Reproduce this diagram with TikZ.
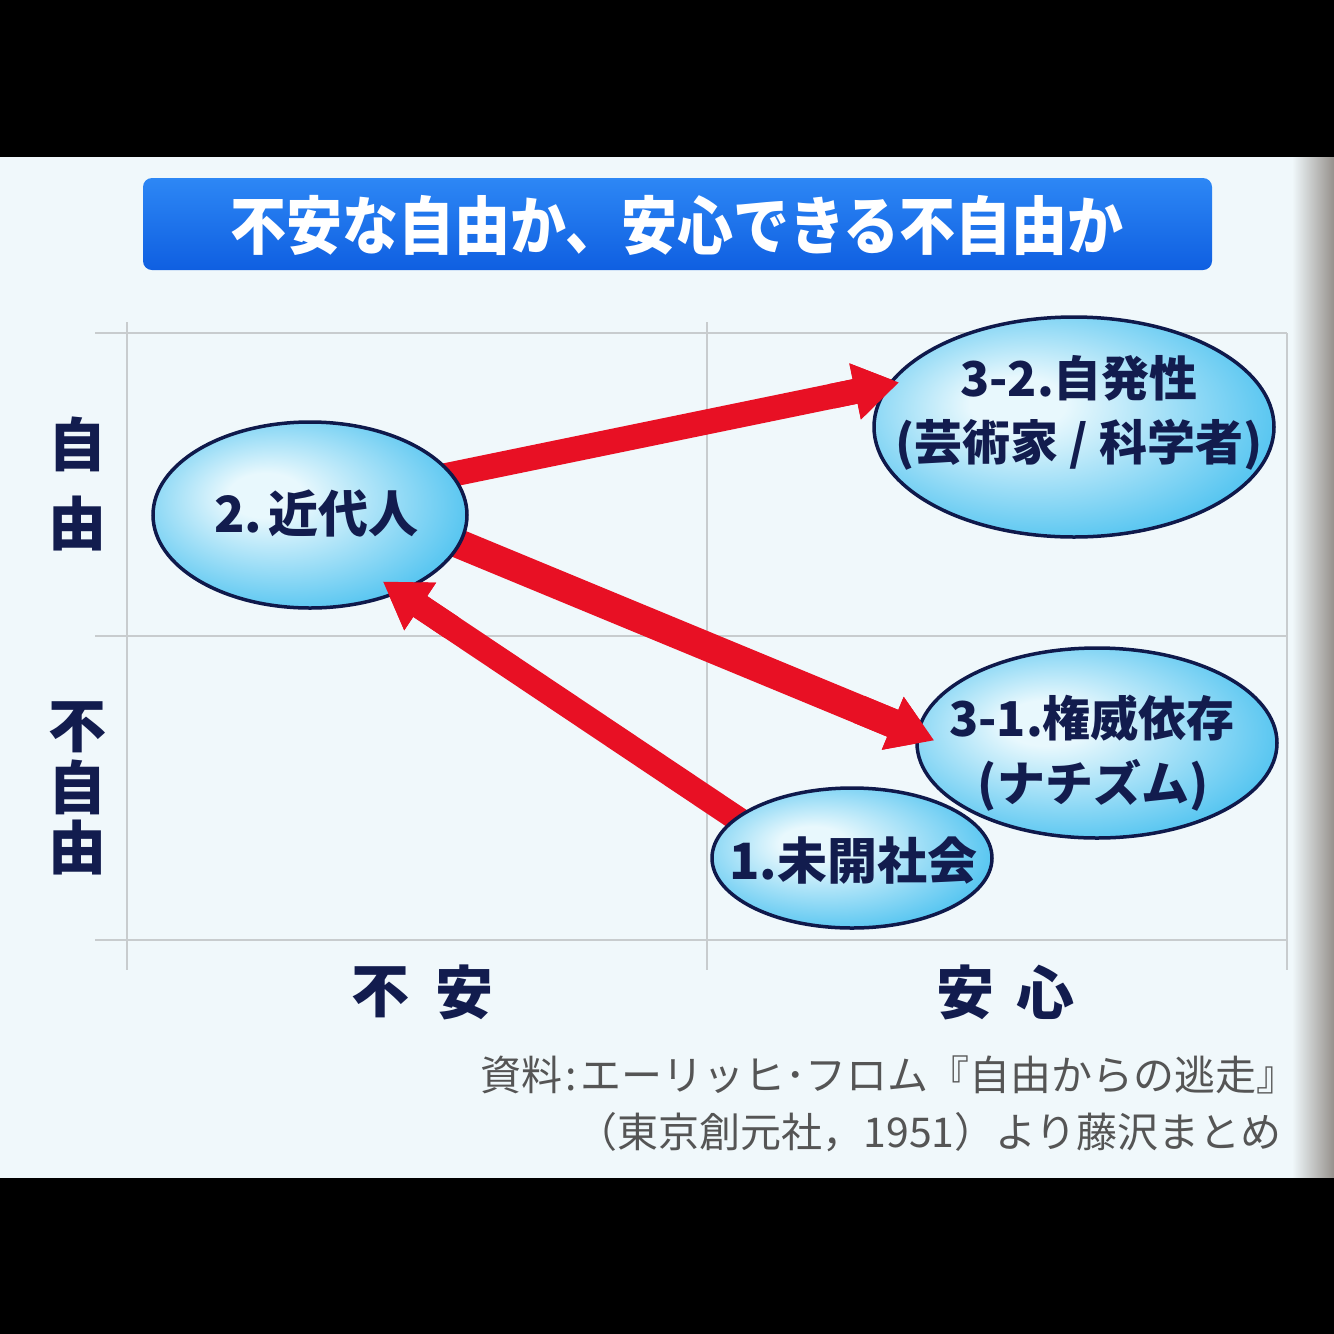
\documentclass[tikz,border=0pt]{standalone}
\usepackage{fontspec}
\newfontfamily\jp{Noto Sans CJK JP}
\usetikzlibrary{shapes.geometric,arrows.meta}
\definecolor{bgc}{RGB}{240,248,251}
\definecolor{gridc}{RGB}{200,204,206}
\definecolor{navy}{RGB}{15,25,75}
\definecolor{txtc}{RGB}{18,28,78}
\definecolor{arrred}{RGB}{232,16,36}
\definecolor{ellin}{RGB}{232,248,253}
\definecolor{ellout}{RGB}{80,195,240}
\definecolor{ttop}{RGB}{45,135,245}
\definecolor{tbot}{RGB}{15,95,225}
\definecolor{capc}{RGB}{85,85,85}
\definecolor{vign}{RGB}{150,145,140}
\pgfdeclareradialshading{ellshade}{\pgfpoint{-8bp}{6bp}}{color(0bp)=(ellin); color(6bp)=(ellin); color(30bp)=(ellout); color(50bp)=(ellout)}
\tikzset{
  ell/.style={ellipse, draw=navy, line width=3.5pt, inner sep=0pt, shading=ellshade},
  gridline/.style={draw=gridc, line width=2.5pt},
  redarrow/.style={draw=arrred, line width=#1, -{Triangle[length=45pt,width=54pt]}},
  lab/.style={inner sep=0pt, text=txtc, font=\jp\bfseries\fontsize{50}{60}\selectfont},
  axlab/.style={inner sep=0pt, text=txtc, font=\jp\bfseries\fontsize{58}{60}\selectfont},
  captext/.style={inner sep=0pt, text=capc, font=\jp\fontsize{41}{48}\selectfont, anchor=east}
}
\begin{document}
\begin{tikzpicture}[x=1pt,y=-1pt]
\useasboundingbox (0,0) rectangle (1334,1334);
% background
\fill[bgc] (0,157) rectangle (1334,1178);
\shade[left color=bgc, right color=vign] (1292,157) rectangle (1334,1178);
\fill[black] (0,0) rectangle (1334,157);
\fill[black] (0,1178) rectangle (1334,1334);
% title
\shade[top color=ttop, bottom color=tbot, rounded corners=9pt] (143,178) rectangle (1212,270);
\node[inner sep=0pt, text=white, font=\jp\bfseries\fontsize{56}{58}\selectfont] (title) at (677,225) {\scalebox{1}[1.13]{不安な自由か、安心できる不自由か}};
% grid
\draw[gridline] (95,333) -- (1287,333);
\draw[gridline] (95,636) -- (1287,636);
\draw[gridline] (95,940) -- (1287,940);
\draw[gridline] (127,322) -- (127,970);
\draw[gridline] (707,322) -- (707,970);
\draw[gridline] (1287,333) -- (1287,970);
% ellipse nodes (positions only first, drawn after arrows)
\path (310,515) node[ellipse, minimum width=314pt, minimum height=186pt, inner sep=0pt] (n2) {};
\path (1074,427) node[ellipse, minimum width=400pt, minimum height=220pt, inner sep=0pt] (n32) {};
\path (1097,743) node[ellipse, minimum width=360pt, minimum height=190pt, inner sep=0pt] (n31) {};
\path (852,858) node[ellipse, minimum width=280pt, minimum height=140pt, inner sep=0pt] (n1) {};
% arrows
\draw[redarrow=25pt, shorten <=-20pt, shorten >=-10pt] (n2.16.8) -- (n32.167);
\draw[redarrow=29pt, shorten <=-20pt, shorten >=-18pt] (n2.-11) -- (n31.177.5);
\draw[redarrow=25pt, shorten <=-20pt, shorten >=-19pt] (n1.161.6) -- (n2.-41.7);
% ellipses drawn
\node[ell, minimum width=314pt, minimum height=186pt] (e2) at (n2) {};
\node[ell, minimum width=400pt, minimum height=220pt] (e32) at (n32) {};
\node[ell, minimum width=360pt, minimum height=190pt] (e31) at (n31) {};
\node[ell, minimum width=280pt, minimum height=140pt] (e1) at (n1) {};
% arrowheads over the ellipse outlines
\begin{scope}
\clip (n32.167) circle (60pt);
\draw[redarrow=25pt, shorten <=-20pt, shorten >=-10pt] (n2.16.8) -- (n32.167);
\end{scope}
\begin{scope}
\clip (n31.177.5) circle (65pt);
\draw[redarrow=29pt, shorten <=-20pt, shorten >=-18pt] (n2.-11) -- (n31.177.5);
\end{scope}
\begin{scope}
\clip (n2.-41.7) circle (65pt);
\draw[redarrow=25pt, shorten <=-20pt, shorten >=-19pt] (n1.161.6) -- (n2.-41.7);
\end{scope}
% ellipse texts
\node[lab] (t2) at (316,514) {2.\kern6pt 近代人};
\node[lab, font=\jp\bfseries\fontsize{48}{60}\selectfont] (t32a) at (1079,378) {3-2.自発性};
\node[lab, font=\jp\bfseries\fontsize{48}{60}\selectfont] (t32b) at (1079,445) {(芸術家 / 科学者)};
\node[lab, font=\jp\bfseries\fontsize{48}{60}\selectfont] (t31a) at (1092,718) {3-1.権威依存};
\node[lab, font=\jp\bfseries\fontsize{48}{60}\selectfont] (t31b) at (1093,785) {(ナチズム)};
\node[lab] (t1) at (853,861) {1.未開社会};
% axis labels
\node[axlab] (ya1) at (77,444) {自};
\node[axlab] (ya2) at (77,524) {由};
\node[axlab] (yb1) at (77,727) {不};
\node[axlab] (yb2) at (77,787) {自};
\node[axlab] (yb3) at (77,848) {由};
\node[axlab] (xa1) at (380,992) {不};
\node[axlab] (xa2) at (464,992) {安};
\node[axlab] (xb1) at (965,992) {安};
\node[axlab] (xb2) at (1045,992) {心};
% caption
\node[captext] (c1) at (1298,1075) {資料\kern3pt:\kern3pt エーリッヒ･フロム『自由からの逃走』};
\node[captext] (c2) at (1282,1132) {（東京創元社，1951）より藤沢まとめ};
\end{tikzpicture}
\end{document}
